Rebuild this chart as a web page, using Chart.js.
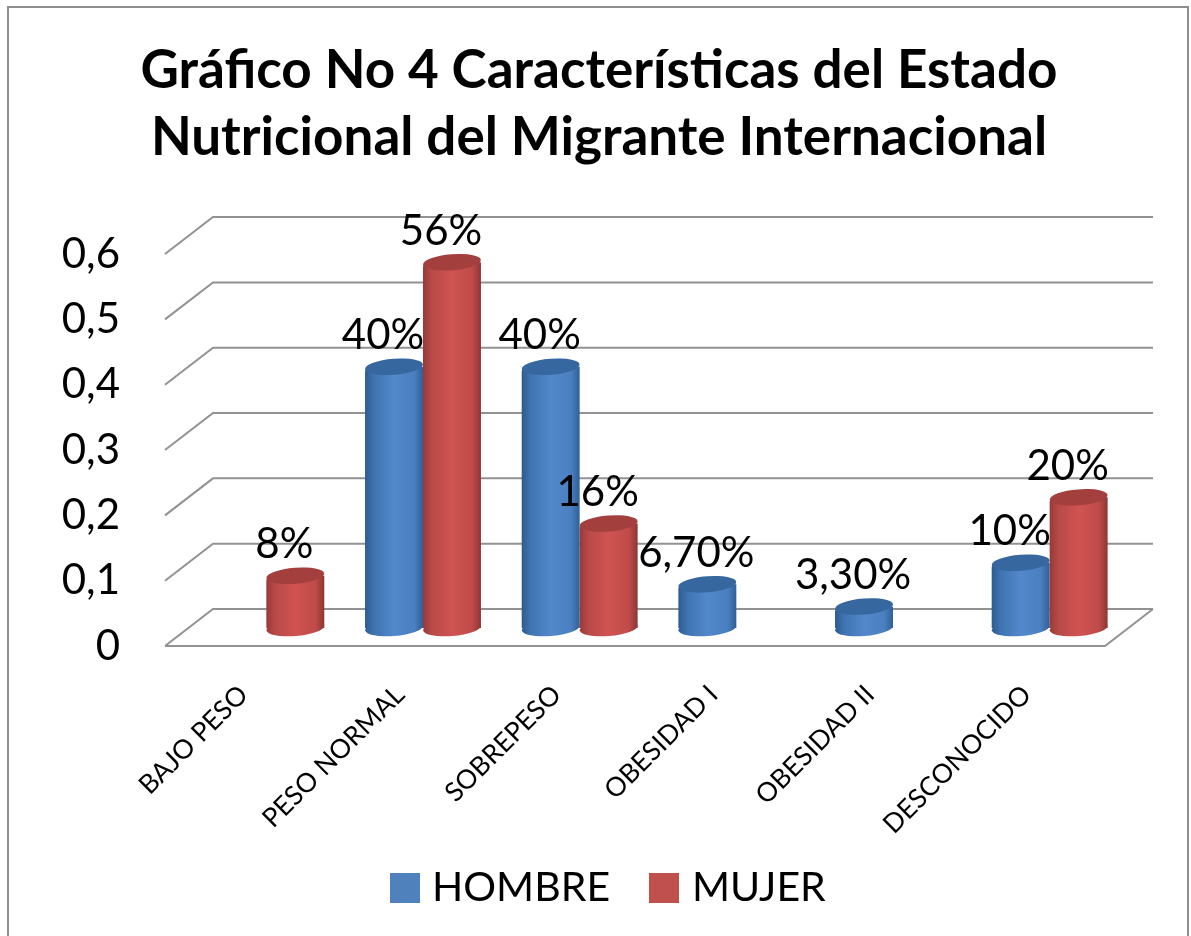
<!DOCTYPE html>
<html>
<head>
<meta charset="utf-8">
<title>Gráfico No 4</title>
<script src="https://cdn.jsdelivr.net/npm/chart.js@4"></script>
<style>
  html, body { margin: 0; background: #fff; }
  canvas { display: block; }
</style>
</head>
<body>
<canvas id="chart" width="1191" height="936"></canvas>
<script>
const CATEGORIES = ["BAJO PESO", "PESO NORMAL", "SOBREPESO", "OBESIDAD I", "OBESIDAD II", "DESCONOCIDO"];
const HOMBRE = [null, 0.4, 0.4, 0.067, 0.033, 0.1];
const MUJER = [0.08, 0.56, 0.16, null, null, 0.2];
const HOMBRE_LABELS = ["", "40%", "40%", "6,70%", "3,30%", "10%"];
const MUJER_LABELS = ["8%", "56%", "16%", "", "", "20%"];
const TITLE_LINES = ["Gráfico No 4 Características del Estado", "Nutricional del Migrante Internacional"];

const FONT = "Lato, sans-serif";
const GRID = "#929292";
// pseudo-3D: bars stand mid-way in the floor, gridlines on the back wall
const BAR_SHIFT = { x: 23, y: -18 };
const BACK_SHIFT = { x: 48, y: -37 };
const TILT = -4.5 * Math.PI / 180;
const RY = 8;
const STYLE = {
  HOMBRE: { legend: "#4f81bd", top: "#36689f", stops: ["#2c5b90", "#3f73b0", "#5289cc", "#4a7fc0", "#2f6098"] },
  MUJER: { legend: "#c0504d", top: "#a33f3d", stops: ["#963a38", "#b84a48", "#d05351", "#bf4b49", "#8c3634"] },
};
const BAR_FRACTION = 0.74;

function cylinderFill(ctx, x, w, stops) {
  const g = ctx.createLinearGradient(x - w / 2, 0, x + w / 2, 0);
  [0, 0.15, 0.5, 0.85, 1].forEach((p, i) => g.addColorStop(p, stops[i]));
  return g;
}

function barFill(c, name) {
  const x = c.chart.scales.x;
  const w = (x.getPixelForTick(1) - x.getPixelForTick(0)) * BAR_FRACTION / 2;
  const center = x.getPixelForTick(c.dataIndex) + (name === "HOMBRE" ? -w / 2 : w / 2);
  return cylinderFill(c.chart.ctx, center, w, STYLE[name].stops);
}

const frame = {
  id: "frame",
  beforeDraw(chart) {
    const { ctx, width, height } = chart;
    ctx.save();
    ctx.strokeStyle = "#8e8e8e";
    ctx.lineWidth = 2;
    ctx.beginPath();
    ctx.moveTo(8, height);
    ctx.lineTo(8, 7);
    ctx.lineTo(width - 3, 7);
    ctx.lineTo(width - 3, height);
    ctx.stroke();
    ctx.restore();
  },
};

const wireframe = {
  id: "wireframe",
  beforeDatasetsDraw(chart) {
    const { ctx, chartArea: a, scales: { y } } = chart;
    ctx.save();
    ctx.strokeStyle = GRID;
    ctx.lineWidth = 2;
    y.ticks.forEach((t) => {
      const py = y.getPixelForValue(t.value);
      ctx.beginPath();
      ctx.moveTo(a.left, py);
      ctx.lineTo(a.left + BACK_SHIFT.x, py + BACK_SHIFT.y);
      ctx.lineTo(a.right + BACK_SHIFT.x, py + BACK_SHIFT.y);
      ctx.stroke();
    });
    // floor front edge and right side
    ctx.beginPath();
    ctx.moveTo(a.left, a.bottom);
    ctx.lineTo(a.right, a.bottom);
    ctx.lineTo(a.right + BACK_SHIFT.x, a.bottom + BACK_SHIFT.y);
    ctx.stroke();
    ctx.restore();
  },
};

// Chart.js paints the last dataset first; here the red bars must land on top
const cylinders = {
  id: "cylinders",
  beforeDatasetDraw() {
    return false;
  },
  afterDatasetsDraw(chart) {
    const { ctx } = chart;
    const ellipse = (x, y, rx) => {
      ctx.beginPath();
      ctx.ellipse(x, y, rx, RY, TILT, 0, Math.PI * 2);
      ctx.fill();
    };
    chart.data.datasets.forEach((set, d) => {
      const meta = chart.getDatasetMeta(d);
      const style = STYLE[set.label];
      ctx.save();
      ctx.translate(BAR_SHIFT.x, BAR_SHIFT.y);
      meta.data.forEach((bar, i) => {
        if (set.data[i] == null) return;
        ctx.fillStyle = cylinderFill(ctx, bar.x, bar.width, style.stops);
        ellipse(bar.x, bar.base, bar.width / 2);
      });
      meta.controller.draw();
      meta.data.forEach((bar, i) => {
        if (set.data[i] == null) return;
        ctx.fillStyle = style.top;
        ellipse(bar.x, bar.y, bar.width / 2);
      });
      ctx.restore();
    });

    ctx.save();
    ctx.fillStyle = "#000";
    ctx.font = "42px " + FONT;
    ctx.textAlign = "center";
    ctx.textBaseline = "middle";
    [HOMBRE_LABELS, MUJER_LABELS].forEach((labels, d) => {
      chart.getDatasetMeta(d).data.forEach((bar, i) => {
        if (!labels[i]) return;
        ctx.fillText(labels[i], bar.x + BAR_SHIFT.x - 11, bar.y + BAR_SHIFT.y - 31);
      });
    });
    ctx.restore();
  },
};

// legend with the tight swatch-to-text gap of the original
const legendRow = {
  id: "legendRow",
  afterDraw(chart) {
    const { ctx } = chart;
    const items = [["HOMBRE", 390, 432], ["MUJER", 649, 692]];
    ctx.save();
    ctx.font = "41px " + FONT;
    ctx.textBaseline = "middle";
    items.forEach(([name, boxX, textX]) => {
      ctx.fillStyle = STYLE[name].legend;
      ctx.fillRect(boxX, 873, 30, 30);
      ctx.fillStyle = "#000";
      ctx.fillText(name, textX, 888);
    });
    ctx.restore();
  },
};

new Chart(document.getElementById("chart"), {
  type: "bar",
  data: {
    labels: CATEGORIES,
    datasets: [
      { label: "HOMBRE", data: HOMBRE, backgroundColor: (c) => barFill(c, "HOMBRE"),
        borderRadius: { topLeft: 5, topRight: 0, bottomLeft: 0, bottomRight: 0 }, borderSkipped: false },
      { label: "MUJER", data: MUJER, backgroundColor: (c) => barFill(c, "MUJER"),
        borderRadius: { topLeft: 5, topRight: 0, bottomLeft: 0, bottomRight: 0 }, borderSkipped: false },
    ],
  },
  options: {
    responsive: false,
    animation: false,
    categoryPercentage: BAR_FRACTION,
    barPercentage: 1,
    layout: { padding: { left: 7, right: 0, top: 38, bottom: 100 } },
    plugins: {
      tooltip: { enabled: false },
      legend: { display: false },
      title: {
        display: true,
        text: TITLE_LINES,
        color: "#000",
        font: { family: FONT, size: 53, weight: "bold", lineHeight: 1.26 },
        padding: { top: 0, bottom: 82.5 },
      },
    },
    scales: {
      x: {
        grid: { display: false },
        border: { display: false },
        afterFit: (s) => { s.height = 190; },
        ticks: {
          color: "#000",
          font: { family: FONT, size: 26.5 },
          minRotation: 45,
          maxRotation: 45,
          padding: 25,
          autoSkip: false,
        },
      },
      y: {
        min: 0,
        max: 0.6,
        grid: { display: false },
        border: { display: false },
        afterFit: (s) => { s.width = 158; },
        ticks: {
          color: "#000",
          font: { family: FONT, size: 42 },
          stepSize: 0.1,
          padding: 37,
          callback: (v) => String(Math.round(v * 10) / 10).replace(".", ","),
        },
      },
      // empty axis that keeps the plot clear of the right edge
      gutter: {
        position: "right",
        min: 0,
        max: 0.6,
        grid: { display: false },
        border: { display: false },
        ticks: { display: false },
        afterFit: (s) => { s.width = 86; },
      },
    },
  },
  plugins: [frame, wireframe, cylinders, legendRow],
});
</script>
</body>
</html>
